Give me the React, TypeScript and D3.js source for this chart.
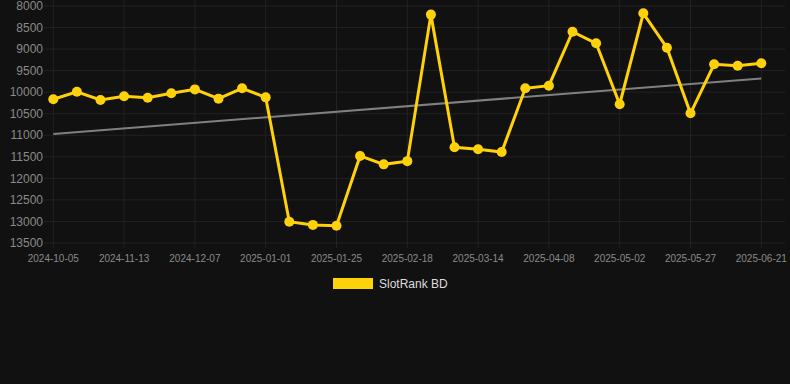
import React from "react";
import * as d3 from "d3";

const dates = [
  "2024-10-05","2024-10-18","2024-10-31","2024-11-13","2024-11-21","2024-11-29","2024-12-07","2024-12-15","2024-12-23","2025-01-01",
  "2025-01-09","2025-01-17","2025-01-25","2025-02-02","2025-02-10","2025-02-18","2025-02-26","2025-03-06","2025-03-14","2025-03-22",
  "2025-03-31","2025-04-08","2025-04-16","2025-04-24","2025-05-02","2025-05-10","2025-05-18","2025-05-27","2025-06-04","2025-06-12","2025-06-21",
];
const ranks = [
  10165, 9990, 10180, 10095, 10130, 10025, 9935, 10150, 9910, 10120,
  13005, 13080, 13100, 11480, 11675, 11600, 8200, 11280, 11325, 11390,
  9910, 9850, 8596, 8866, 10280, 8170, 8968, 10490, 9353, 9385, 9330,
];
const trendValues = [10970, 9680];
const yTicks = [8000, 8500, 9000, 9500, 10000, 10500, 11000, 11500, 12000, 12500, 13000, 13500];
const seriesName = "SlotRank BD";

export default function App() {
  const W = 790, H = 384;
  const x = d3.scalePoint<string>().domain(dates).range([53.3, 761.3]);
  const y = d3.scaleLinear().domain([8000, 13500]).range([6, 243]);
  const xTickLabels = dates.filter((_, i) => i % 3 === 0);
  const line = d3.line<number>().x((_, i) => x(dates[i])!).y((d) => y(d));
  const gold = "#FFD10A";
  const font = "'Liberation Sans', Arial, sans-serif";
  return (
    <svg width={W} height={H} style={{ position: "absolute", left: 0, top: 0, background: "#111111" }} fontFamily={font}>
      <rect width={W} height={H} fill="#111111" />
      {yTicks.map((t) => (
        <g key={t}>
          <line x1={44} x2={785} y1={y(t)} y2={y(t)} stroke="#222222" strokeWidth={1} />
          <text x={43} y={y(t)} dy="0.35em" textAnchor="end" fontSize={12} fill="#8a8a8a">{t}</text>
        </g>
      ))}
      {xTickLabels.map((d) => (
        <g key={d}>
          <line x1={x(d)!} x2={x(d)!} y1={0} y2={248} stroke="#222222" strokeWidth={1} />
          <text x={x(d)!} y={262} textAnchor="middle" fontSize={10} fill="#8a8a8a">{d}</text>
        </g>
      ))}
      <line x1={x(dates[0])!} x2={x(dates[dates.length - 1])!} y1={y(trendValues[0])} y2={y(trendValues[1])} stroke="#808080" strokeWidth={2} />
      <path d={line(ranks) || ""} fill="none" stroke={gold} strokeWidth={3} />
      {ranks.map((v, i) => (
        <circle key={i} cx={x(dates[i])!} cy={y(v)} r={5} fill={gold} />
      ))}
      <rect x={333} y={278} width={40} height={11} fill={gold} />
      <text x={379} y={288} fontSize={12} fill="#dddddd">{seriesName}</text>
    </svg>
  );
}
